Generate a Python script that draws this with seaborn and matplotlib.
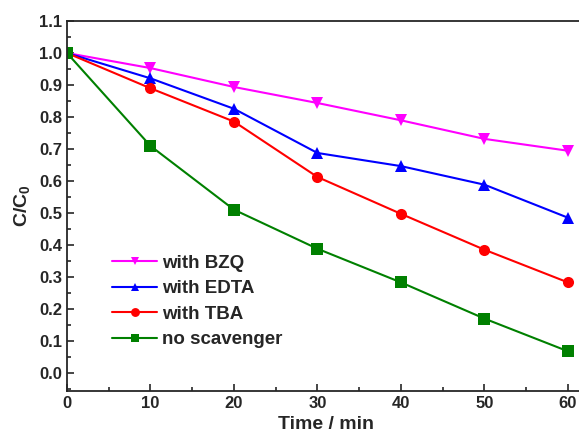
import pandas as pd
import matplotlib.pyplot as plt
import seaborn as sns
from matplotlib.ticker import MultipleLocator

# Data
time = [0, 10, 20, 30, 40, 50, 60]
bzq = [1.0, 0.953, 0.894, 0.844, 0.790, 0.732, 0.695]
edta = [1.0, 0.921, 0.826, 0.688, 0.647, 0.589, 0.486]
tba = [1.0, 0.890, 0.786, 0.613, 0.498, 0.386, 0.284]
none = [1.0, 0.710, 0.511, 0.389, 0.284, 0.171, 0.069]

labels = ["with BZQ", "with EDTA", "with TBA", "no scavenger"]
series = [bzq, edta, tba, none]

df = pd.concat([pd.DataFrame({"Time": time, "C": vals, "Sample": lab})
                for lab, vals in zip(labels, series)], ignore_index=True)

sns.set_style("ticks")
plt.rcParams['font.family'] = ['Liberation Sans', 'DejaVu Sans']
plt.rcParams['mathtext.fontset'] = 'custom'
plt.rcParams['mathtext.bf'] = 'Liberation Sans:bold'
plt.rcParams['mathtext.rm'] = 'Liberation Sans:bold'

palette = {"with BZQ": "#ff00ff", "with EDTA": "#0000ff",
           "with TBA": "#ff0000", "no scavenger": "#008000"}
markers = {"with BZQ": "v", "with EDTA": "^", "with TBA": "o", "no scavenger": "s"}

fig = plt.figure(figsize=(5.79, 4.43), dpi=100)
ax = fig.add_axes([0.1157, 0.1174, 0.894, 0.8352])

sns.lineplot(data=df, x="Time", y="C", hue="Sample", style="Sample",
             hue_order=labels, style_order=labels, palette=palette,
             markers=markers, dashes=False, markersize=8, linewidth=1.5,
             markeredgewidth=0, ax=ax)

ax.set_xlim(0, 62)
ax.set_ylim(-0.055, 1.1)
ax.xaxis.set_major_locator(MultipleLocator(10))
ax.xaxis.set_minor_locator(MultipleLocator(5))
ax.yaxis.set_major_locator(MultipleLocator(0.1))
ax.yaxis.set_minor_locator(MultipleLocator(0.05))
ax.tick_params(which='both', direction='in', width=1.2)
ax.tick_params(which='major', length=5, labelsize=12)
ax.tick_params(which='minor', length=3)
for lab in ax.get_xticklabels() + ax.get_yticklabels():
    lab.set_fontweight('bold')

for s in ax.spines.values():
    s.set_linewidth(1.3)

ax.set_xlabel("Time / min", fontsize=14, fontweight='bold')
ax.set_ylabel(r"C/C$_\mathbf{0}$", fontsize=14, fontweight='bold')

leg = ax.legend(loc='lower left', bbox_to_anchor=(0.055, 0.07), frameon=False,
                prop={'weight': 'bold', 'size': 13.5}, handlelength=2.4,
                labelspacing=0.45, handletextpad=0.25, markerscale=0.8)

plt.savefig("out.png", dpi=100)
